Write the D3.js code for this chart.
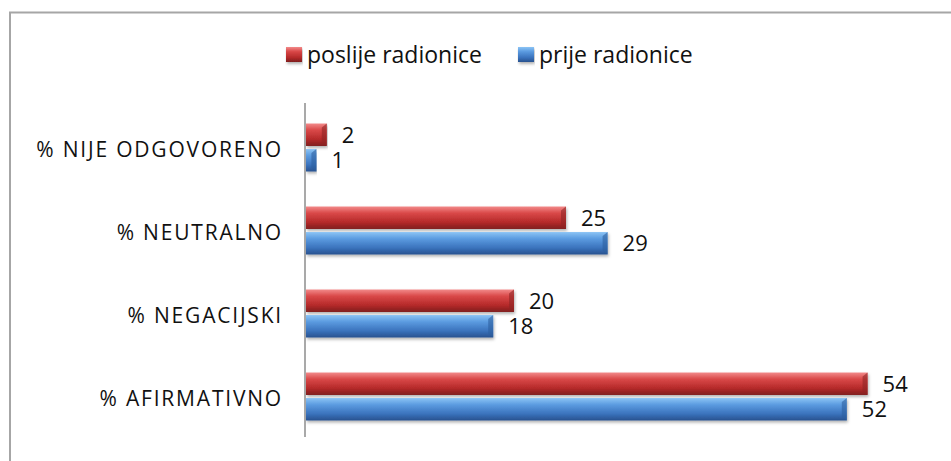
<!DOCTYPE html>
<html>
<head>
<meta charset="utf-8">
<script src="https://cdn.jsdelivr.net/npm/d3@7.9.0/dist/d3.min.js"></script>
<style>
  body { margin: 0; background: #fff; }
  svg { display: block; font-family: "Open Sans", "DejaVu Sans", sans-serif; }
</style>
</head>
<body>
<svg width="951" height="461"></svg>
<script>
const categories = ['% NIJE ODGOVORENO', '% NEUTRALNO', '% NEGACIJSKI', '% AFIRMATIVNO'];
const seriesNames = ['poslije radionice', 'prije radionice'];
const poslije = [2, 25, 20, 54];
const prije = [1, 29, 18, 52];

const svg = d3.select('svg');
const defs = svg.append('defs');

// vertical gradients for the glossy bar look
const grads = {
    red: ['#f28a8a', '#d94848', '#b52a2a', '#7f1e1e'],
    blue: ['#8cc4f5', '#5b9be0', '#3b73bd', '#27528f']
};
Object.entries(grads).forEach(([name, stops]) => {
    const g = defs.append('linearGradient')
        .attr('id', 'g-' + name)
        .attr('x1', 0).attr('y1', 0).attr('x2', 0).attr('y2', 1);
    [0, 0.3, 0.7, 1].forEach((o, i) => {
        g.append('stop').attr('offset', o).attr('stop-color', stops[i]);
    });
});
defs.append('filter').attr('id', 'shadow')
    .attr('x', '-5%').attr('y', '-20%').attr('width', '110%').attr('height', '160%')
    .append('feDropShadow')
    .attr('dx', 1).attr('dy', 2).attr('stdDeviation', 1.5)
    .attr('flood-color', '#000').attr('flood-opacity', 0.3);

// outer frame (cut off at right and bottom)
svg.append('path')
    .attr('d', 'M10,470 V12.5 H960')
    .attr('fill', 'none')
    .attr('stroke', '#a6a6a6')
    .attr('stroke-width', 2);

const x = d3.scaleLinear().domain([0, 60]).range([306, 930]);
const y = d3.scaleBand().domain(categories).range([106, 438]);
const inner = d3.scaleBand().domain(seriesNames).range([0, 48]).paddingInner(0.12);

const rows = categories.map((c, i) => ({
    cat: c,
    vals: [
        { s: seriesNames[0], v: poslije[i], col: 'red' },
        { s: seriesNames[1], v: prije[i], col: 'blue' }
    ]
}));

const groups = svg.selectAll('g.row')
    .data(rows)
    .join('g')
    .attr('class', 'row')
    .attr('transform', d => `translate(0,${y(d.cat) + (y.bandwidth() - 48) / 2})`);

const bars = groups.selectAll('g.bar')
    .data(d => d.vals)
    .join('g')
    .attr('class', 'bar');

bars.append('rect')
    .attr('x', x(0))
    .attr('y', d => inner(d.s))
    .attr('width', d => x(d.v) - x(0))
    .attr('height', inner.bandwidth())
    .attr('fill', d => `url(#g-${d.col})`)
    .attr('filter', 'url(#shadow)');

// bevel at the bar end
bars.append('path')
    .attr('d', d => {
        const x1 = x(d.v), y0 = inner(d.s), h = inner.bandwidth();
        const b = Math.min(5, (x1 - x(0)) / 2);
        return `M${x1},${y0} L${x1},${y0 + h} L${x1 - b},${y0 + h - 4} L${x1 - b},${y0 + 4} Z`;
    })
    .attr('fill', d => d.col === 'red' ? '#8f2424' : '#2d5f9e')
    .attr('opacity', 0.6);

// value labels
bars.append('text')
    .attr('x', d => x(d.v) + 15)
    .attr('y', d => inner(d.s) + inner.bandwidth() / 2)
    .attr('dy', '0.36em')
    .attr('font-size', 22)
    .attr('fill', '#111')
    .text(d => d.v);

// category labels
svg.selectAll('text.cat')
    .data(categories)
    .join('text')
    .attr('class', 'cat')
    .attr('x', 283)
    .attr('y', d => y(d) + y.bandwidth() / 2 + 2)
    .attr('dy', '0.36em')
    .attr('text-anchor', 'end')
    .attr('font-size', 21)
    .attr('letter-spacing', 1.8)
    .attr('fill', '#111')
    .text(d => d);

// vertical axis line
svg.append('line')
    .attr('x1', 305).attr('x2', 305)
    .attr('y1', 103).attr('y2', 437)
    .attr('stroke', '#8c8c8c')
    .attr('stroke-width', 1.5);

// legend
const legend = svg.append('g').attr('transform', 'translate(286,55)');
const legendItems = [
    { s: seriesNames[0], col: 'red', x: 0 },
    { s: seriesNames[1], col: 'blue', x: 232 }
];
legendItems.forEach(d => {
    const g = legend.append('g').attr('transform', `translate(${d.x},0)`);
    g.append('rect')
        .attr('x', 0).attr('y', -8)
        .attr('width', 16).attr('height', 15)
        .attr('fill', `url(#g-${d.col})`)
        .attr('filter', 'url(#shadow)');
    g.append('text')
        .attr('x', 21).attr('y', 0)
        .attr('dy', '0.36em')
        .attr('font-size', 23)
        .attr('fill', '#111')
        .text(d.s);
});
</script>
</body>
</html>
